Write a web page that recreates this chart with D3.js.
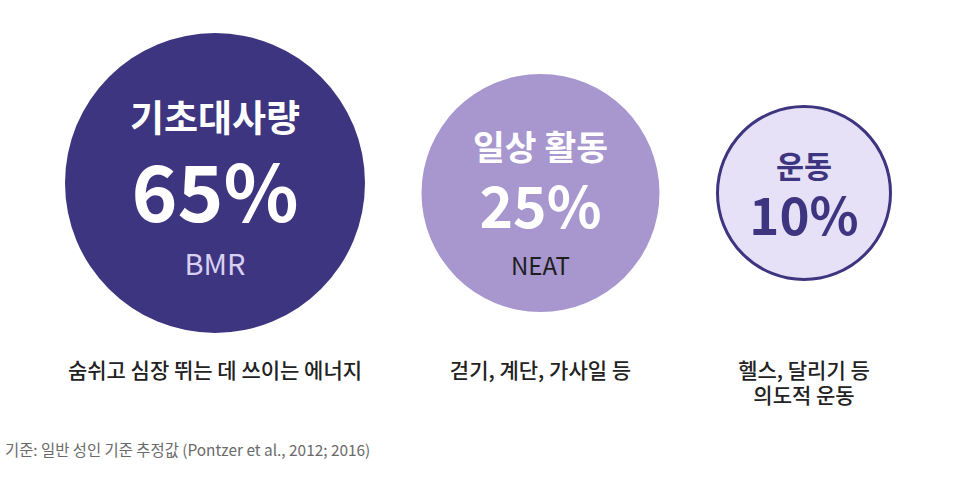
<!DOCTYPE html>
<html>
<head>
<meta charset="utf-8">
<script src="https://cdn.jsdelivr.net/npm/d3@7"></script>
<style>
  html, body { margin: 0; padding: 0; background: #ffffff; }
  svg { display: block; font-family: "Noto Sans CJK KR", "Noto Sans", sans-serif; }
</style>
</head>
<body>
<svg id="chart"></svg>
<script>
// Energy share categories
const labels = ["기초대사량", "일상 활동", "운동"];
const values = [65, 25, 10];
const codes = ["BMR", "NEAT", ""];
const descriptions = [
	["숨쉬고 심장 뛰는 데 쓰이는 에너지"],
	["걷기, 계단, 가사일 등"],
	["헬스, 달리기 등", "의도적 운동"]
];
const note = "기준: 일반 성인 기준 추정값 (Pontzer et al., 2012; 2016)";

// look of each bubble (kept apart from the data)
const bubbleStyle = [
	{ fill: "#3e3580", stroke: "none", sw: 0, title: "#ffffff", value: "#ffffff", code: "#d8d0f3",
	  titleSize: 37, valueSize: 78, codeSize: 29, titleDy: -51, valueDy: 39, codeDy: 92 },
	{ fill: "#a897cf", stroke: "none", sw: 0, title: "#ffffff", value: "#ffffff", code: "#1e1e1e",
	  titleSize: 34.5, valueSize: 57, codeSize: 24, titleDy: -33, valueDy: 35, codeDy: 82 },
	{ fill: "#e6e1f6", stroke: "#3e3580", sw: 3, title: "#3e3580", value: "#3e3580", code: "#3e3580",
	  titleSize: 30.5, valueSize: 51, codeSize: 0, titleDy: -15, valueDy: 42, codeDy: 0 }
];

const width = 966, height = 482;
const svg = d3.select("#chart").attr("width", width).attr("height", height);

const data = labels.map((l, i) => ({
	label: l, value: values[i], code: codes[i], desc: descriptions[i], style: bubbleStyle[i]
}));

// radius from share
const rScale = d3.scaleLinear().domain([10, 25, 65]).range([88, 119, 150]);
// bigger bubbles sit a bit higher
const cyScale = d3.scaleLinear().domain([25, 65]).range([193, 183]).clamp(true);

const leftEdge = 65, gap = 56.5;
let cursor = leftEdge;
data.forEach(d => {
	d.r = rScale(d.value);
	d.cx = cursor + d.r;
	d.cy = cyScale(d.value);
	cursor = d.cx + d.r + gap;
});

const bubbles = svg.selectAll(".bubble")
	.data(data)
	.join("g")
	.attr("class", "bubble")
	.attr("transform", d => `translate(${d.cx},${d.cy})`);

bubbles.append("circle")
	.attr("r", d => d.r - d.style.sw / 2)
	.attr("fill", d => d.style.fill)
	.attr("stroke", d => d.style.stroke)
	.attr("stroke-width", d => d.style.sw);

bubbles.append("text")
	.attr("text-anchor", "middle")
	.attr("y", d => d.style.titleDy)
	.attr("fill", d => d.style.title)
	.attr("font-weight", 700)
	.attr("font-size", d => d.style.titleSize)
	.text(d => d.label);

bubbles.append("text")
	.attr("text-anchor", "middle")
	.attr("y", d => d.style.valueDy)
	.attr("fill", d => d.style.value)
	.attr("font-weight", 700)
	.attr("font-size", d => d.style.valueSize)
	.text(d => d.value + "%");

bubbles.filter(d => d.code)
	.append("text")
	.attr("text-anchor", "middle")
	.attr("y", d => d.style.codeDy)
	.attr("fill", d => d.style.code)
	.attr("font-weight", 400)
	.attr("font-size", d => d.style.codeSize)
	.text(d => d.code);

// descriptions under each bubble
svg.selectAll(".desc")
	.data(data)
	.join("text")
	.attr("class", "desc")
	.attr("text-anchor", "middle")
	.attr("font-size", 21)
	.attr("font-weight", 500)
	.attr("fill", "#222222")
	.each(function(d) {
		d3.select(this).selectAll("tspan")
			.data(d.desc)
			.join("tspan")
			.attr("x", d.cx)
			.attr("y", (t, i) => 378 + i * 25)
			.text(t => t);
	});

svg.append("text")
	.attr("x", 5)
	.attr("y", 456)
	.attr("font-size", 15.4)
	.attr("fill", "#6a6a6a")
	.text(note);
</script>
</body>
</html>
